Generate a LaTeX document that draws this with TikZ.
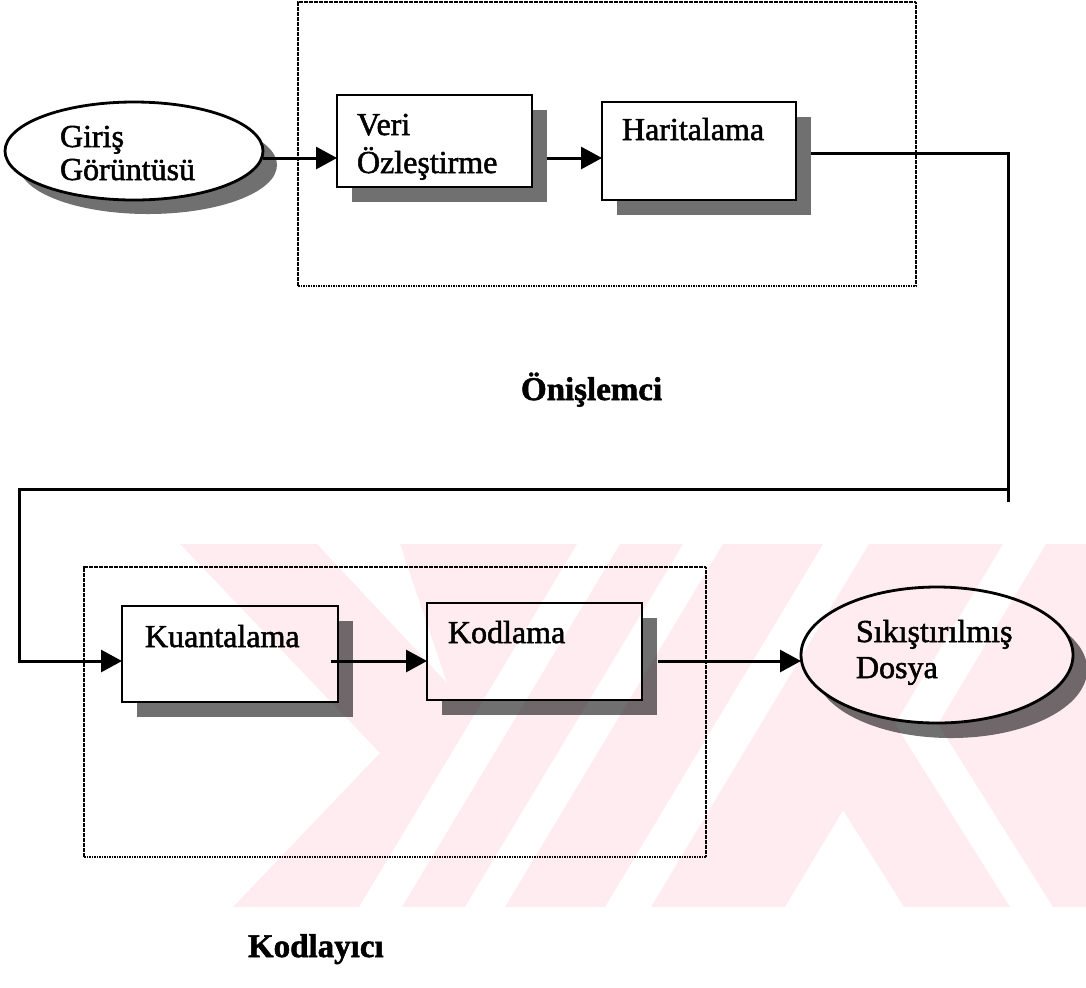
\documentclass[tikz,border=0pt]{standalone}
\usepackage{fontspec}
\setmainfont{Liberation Serif}
\newfontfamily\inkfont{Liberation Serif}[FakeBold=1.6]
\usetikzlibrary{arrows.meta,shadows,calc,shapes.geometric}

\definecolor{shadowgray}{RGB}{112,112,112}
\definecolor{wmpink}{RGB}{254,236,240}

\begin{document}
\begin{tikzpicture}[x=0.5pt,y=-0.5pt,
  every node/.style={inner sep=0pt, outer sep=0pt},
  stepbox/.style={draw, rectangle, line width=1.4pt, fill=white,
    drop shadow={shadow xshift=7.5pt, shadow yshift=-7.5pt, fill=shadowgray, opacity=1}},
  termnode/.style={draw, ellipse, line width=1.4pt, fill=white,
    drop shadow={shadow xshift=7pt, shadow yshift=-7pt, fill=shadowgray, opacity=1}},
  groupbox/.style={draw, rectangle, line width=1.1pt, dash pattern=on 0.8pt off 0.45pt},
  link/.style={line width=1.5pt},
  flow/.style={link, -{Triangle[length=10.5pt,width=11pt]}},
  lbl/.style={anchor=base west, font=\inkfont\fontsize{16}{19}\selectfont},
  grouptitle/.style={anchor=base west, font=\inkfont\fontsize{16.5}{19}\selectfont\bfseries},
]
\useasboundingbox (0,0) rectangle (1086,987);

% containers
\node[groupbox, minimum width=309pt, minimum height=142pt] (pre) at (607,144) {};
\node[groupbox, minimum width=311pt, minimum height=145pt] (enc) at (395,712) {};

% processing steps and terminals
\node[termnode, minimum width=129pt, minimum height=49pt] (giris) at (134,151) {};
\node[stepbox, minimum width=97.5pt, minimum height=46pt] (veri) at (434.5,141) {};
\node[stepbox, minimum width=97pt, minimum height=49pt] (harita) at (699,151) {};
\node[stepbox, minimum width=108pt, minimum height=48pt] (kuant) at (230,654) {};
\node[stepbox, minimum width=107.5pt, minimum height=48.5pt] (kod) at (534.5,651.5) {};
\node[termnode, minimum width=136pt, minimum height=68pt,
  drop shadow={shadow xshift=7pt, shadow yshift=-7.5pt, fill=shadowgray, opacity=1}] (sik) at (937,655) {};

% texts
\node[lbl] (girisA) at ($(giris.west)+(55,-4)$) {Giriş};
\node[lbl] (girisB) at ($(giris.west)+(55,29)$) {Görüntüsü};
\node[lbl] (veriA) at ($(veri.north west)+(20,40)$) {Veri};
\node[lbl] (veriB) at ($(veri.north west)+(20,78)$) {Özleştirme};
\node[lbl] (haritaA) at ($(harita.north west)+(20,38)$) {Haritalama};
\node[lbl] (kuantA) at ($(kuant.north west)+(23,41)$) {Kuantalama};
\node[lbl] (kodA) at ($(kod.north west)+(21,40)$) {Kodlama};
\node[lbl] (sikA) at ($(sik.west)+(55,-13)$) {Sıkıştırılmış};
\node[lbl] (sikB) at ($(sik.west)+(55,23)$) {Dosya};
\node[grouptitle] (preT) at ($(pre.south)+(-86,114)$) {Önişlemci};
\node[grouptitle] (encT) at ($(enc.south)+(-147,100)$) {Kodlayıcı};

% routing points
\coordinate (rowA) at (0,158);
\coordinate (rowB) at (0,661);
\coordinate (turnA) at (1008,153);
\coordinate (stub) at (1008,502);
\coordinate (turnB) at (1008,489);
\coordinate (turnC) at (19,489);

% connectors
\draw[flow] (giris.east |- rowA) -- (veri.west |- rowA);
\draw[flow] ($(veri.east |- rowA)+(15,0)$) -- (harita.west |- rowA);
\draw[link] ($(harita.east)+(15,2)$) -- (turnA) -- (stub);
\draw[flow] (turnB) -- (turnC) |- (kuant.west |- rowB);
\draw[flow] ($(kuant.east |- rowB)+(-7,0)$) -- (kod.west |- rowB);
\draw[flow] ($(kod.east |- rowB)+(16,0)$) -- (sik.west |- rowB);

% faint background emblem
\begin{scope}[blend mode=multiply]
  \clip (0,544) rectangle (1086,907);
  \fill[wmpink]
    (180,544) -- (317,544) -- (447,683) -- (400,544) -- (577,544) -- (359,907) -- (233,907) -- (380,753) -- cycle
    (620,544) -- (683,544) -- (465,907) -- (402,907) -- cycle
    (723,544) -- (823,544) -- (605,907) -- (505,907) -- cycle
    (869,544) -- (1003,544) -- (785,907) -- (651,907) -- cycle
    (843,810) -- (895,724) -- (1010,907) -- (904,907) -- cycle
    (1046,544) -- (1086,544) -- (1086,907) -- (1053,907) -- (938,724) -- cycle;
\end{scope}
\end{tikzpicture}
\end{document}
